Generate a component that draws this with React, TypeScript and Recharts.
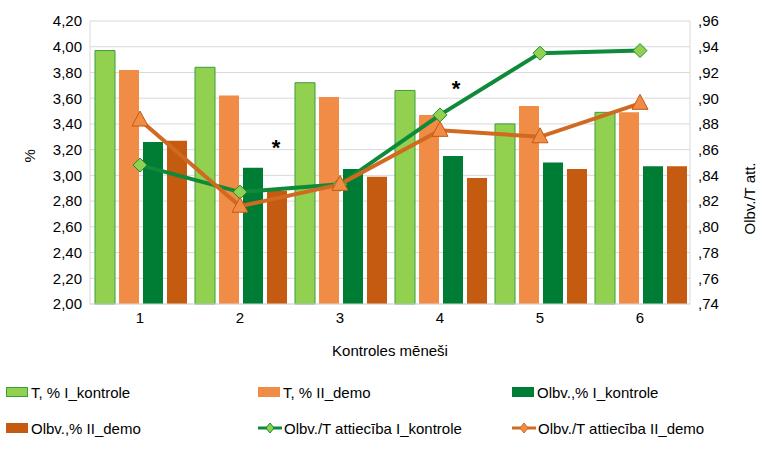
import React from 'react';
import { ComposedChart, Bar, Line, XAxis, YAxis, CartesianGrid, ReferenceDot } from 'recharts';

const months = ['1', '2', '3', '4', '5', '6'];
const tI = [3.97, 3.84, 3.72, 3.66, 3.4, 3.49];
const tII = [3.82, 3.62, 3.61, 3.47, 3.54, 3.49];
const oI = [3.26, 3.06, 3.05, 3.15, 3.1, 3.07];
const oII = [3.27, 2.88, 2.99, 2.98, 3.05, 3.07];
const rI = [0.848, 0.827, 0.833, 0.887, 0.935, 0.937];
const rII = [0.883, 0.816, 0.833, 0.875, 0.87, 0.896];
const leftTicks = [2, 2.2, 2.4, 2.6, 2.8, 3, 3.2, 3.4, 3.6, 3.8, 4, 4.2];
const rightTicks = [0.74, 0.76, 0.78, 0.8, 0.82, 0.84, 0.86, 0.88, 0.9, 0.92, 0.94, 0.96];

const data = months.map((m, i) => ({ m, tI: tI[i], tII: tII[i], oI: oI[i], oII: oII[i], rI: rI[i], rII: rII[i] }));
const fL = (v: number) => v.toFixed(2).replace('.', ',');
const fR = (v: number) => ',' + v.toFixed(2).split('.')[1];

const Diamond = (p: any) => {
  const { cx, cy } = p;
  return <polygon points={`${cx},${cy - 7} ${cx + 7},${cy} ${cx},${cy + 7} ${cx - 7},${cy}`} fill="#92d050" stroke="#1e8b3a" strokeWidth={1} />;
};
const Tri = (p: any) => {
  const { cx, cy } = p;
  return <polygon points={`${cx},${cy - 9} ${cx + 8},${cy + 6} ${cx - 8},${cy + 6}`} fill="#f08c46" stroke="#c55a11" strokeWidth={1} />;
};

const font = { fontFamily: 'Liberation Sans, Arial, sans-serif', fontSize: 15, fill: '#000' };

const legend = [
  { t: 'T, % I_kontrole', c: '#92d050', b: '#3a9e3a', line: false },
  { t: 'T, % II_demo', c: '#f08c46', b: '#f08c46', line: false },
  { t: 'Olbv.,% I_kontrole', c: '#007d35', b: '#007d35', line: false },
  { t: 'Olbv.,% II_demo', c: '#c55a11', b: '#c55a11', line: false },
  { t: 'Olbv./T attiecība I_kontrole', c: '#0e8a3a', b: '', line: true },
  { t: 'Olbv./T attiecība II_demo', c: '#d06a20', b: '', line: true },
];

export default function App() {
  return (
    <div style={{ position: 'absolute', left: 0, top: 0, width: 768, height: 452, background: '#fff', fontFamily: 'Liberation Sans, Arial, sans-serif' }}>
      <ComposedChart width={768} height={370} data={data} margin={{ top: 21, right: 18, left: 30, bottom: 0 }} barCategoryGap="5%" barGap={4}>
        <CartesianGrid stroke="#d9d9d9" vertical={false} yAxisId="l" />
        <XAxis dataKey="m" tick={font} tickLine={false} axisLine={{ stroke: '#d9d9d9' }} height={66}
          label={{ value: 'Kontroles mēneši', position: 'insideBottom', offset: 14, style: font }} />
        <YAxis yAxisId="l" domain={[2, 4.2]} ticks={leftTicks} tickFormatter={fL} tick={font} tickLine={false} axisLine={{ stroke: '#d9d9d9' }} width={60}
          label={{ value: '%', angle: -90, position: 'insideLeft', offset: 0, style: font }} />
        <YAxis yAxisId="r" orientation="right" domain={[0.74, 0.96]} ticks={rightTicks} tickFormatter={fR} tick={font} tickLine={false} axisLine={{ stroke: '#d9d9d9' }} width={60}
          label={{ value: 'Olbv./T att.', angle: -90, position: 'insideRight', offset: 0, style: font }} />
        <Bar yAxisId="l" dataKey="tI" fill="#92d050" stroke="#3a9e3a" isAnimationActive={false} />
        <Bar yAxisId="l" dataKey="tII" fill="#f08c46" isAnimationActive={false} />
        <Bar yAxisId="l" dataKey="oI" fill="#007d35" isAnimationActive={false} />
        <Bar yAxisId="l" dataKey="oII" fill="#c55a11" isAnimationActive={false} />
        <Line yAxisId="r" dataKey="rI" stroke="#0e8a3a" strokeWidth={4} dot={<Diamond />} isAnimationActive={false} />
        <Line yAxisId="r" dataKey="rII" stroke="#d06a20" strokeWidth={4} dot={<Tri />} isAnimationActive={false} />
        <ReferenceDot yAxisId="r" x="2" y={0.862} r={0} label={{ value: '*', dx: 36, style: { ...font, fontSize: 22, fontWeight: 'bold' } }} />
        <ReferenceDot yAxisId="r" x="4" y={0.908} r={0} label={{ value: '*', dx: 16, style: { ...font, fontSize: 22, fontWeight: 'bold' } }} />
      </ComposedChart>
      <div style={{ position: 'absolute', left: 6, top: 382, width: 760, display: 'grid', gridTemplateColumns: '252px 254px 254px', rowGap: 16, fontSize: 15 }}>
        {legend.map((l) => (
          <div key={l.t} style={{ display: 'flex', alignItems: 'center', height: 20 }}>
            {l.line ? (
              <svg width={24} height={12} style={{ marginRight: 2 }}>
                <line x1={0} y1={6} x2={24} y2={6} stroke={l.c} strokeWidth={3} />
                <polygon points="12,1 16,6 12,11 8,6" fill={l.t.includes('I_k') ? '#92d050' : '#f08c46'} stroke={l.c} />
              </svg>
            ) : (
              <div style={{ width: 20, height: 8, background: l.c, border: `1px solid ${l.b}`, marginRight: 3 }} />
            )}
            <span>{l.t}</span>
          </div>
        ))}
      </div>
    </div>
  );
}
